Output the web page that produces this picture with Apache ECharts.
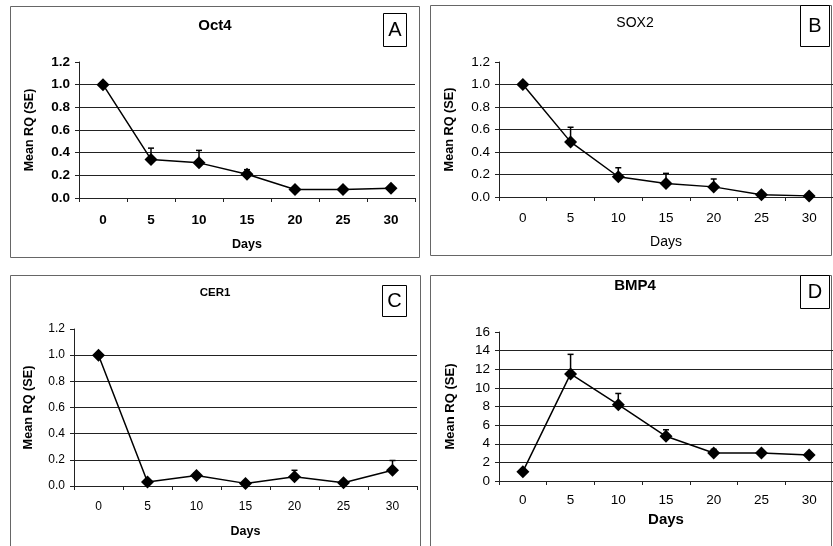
<!DOCTYPE html>
<html>
<head>
<meta charset="utf-8">
<script src="https://cdn.jsdelivr.net/npm/echarts@6/dist/echarts.min.js"></script>
<style>
html,body{margin:0;padding:0;background:#fff;}
#c{width:833px;height:546px;}
</style>
</head>
<body>
<div id="c"></div>
<script>
// ---- data ----
var days = ['0', '5', '10', '15', '20', '25', '30'];
var oct4 = [1.0, 0.34, 0.31, 0.21, 0.075, 0.075, 0.085];
var oct4Se = [0, 0.10, 0.11, 0.04, 0.01, 0.01, 0.01];
var sox2 = [1.0, 0.49, 0.18, 0.12, 0.09, 0.02, 0.01];
var sox2Se = [0, 0.13, 0.08, 0.09, 0.07, 0.01, 0.01];
var cer1 = [1.0, 0.03, 0.08, 0.02, 0.07, 0.025, 0.12];
var cer1Se = [0, 0.01, 0.02, 0.01, 0.05, 0.01, 0.075];
var bmp4 = [1.0, 11.5, 8.2, 4.8, 3.0, 3.0, 2.8];
var bmp4Se = [0, 2.1, 1.2, 0.7, 0.4, 0.1, 0.1];
var titles = ['Oct4', 'SOX2', 'CER1', 'BMP4'];
var letters = ['A', 'B', 'C', 'D'];
var yName = 'Mean RQ (SE)';
var xName = 'Days';

var FONT = '"Liberation Sans", Arial, sans-serif';
var panels = [
  {vals: oct4, se: oct4Se, max: 1.2, interval: 0.2, dec: 1,
   grid: {left: 79, top: 62, width: 336, height: 136},
   tickBold: true, tickSize: 13.5, yNameBold: true, xNameBold: true, nameSize: 12.5, xNameSize: 12.5,
   yGap: 43, xGap: 40, xMargin: 15, box: [383, 13, 23, 33], title: [215, 26], titleBold: true, titleSize: 15},
  {vals: sox2, se: sox2Se, max: 1.2, interval: 0.2, dec: 1,
   grid: {left: 499, top: 62, width: 336, height: 135},
   tickBold: false, tickSize: 13.5, yNameBold: true, xNameBold: false, nameSize: 12.7, xNameSize: 14,
   yGap: 43, xGap: 38, xMargin: 14, box: [800, 5, 29, 41], title: [635, 23], titleBold: false, titleSize: 14},
  {vals: cer1, se: cer1Se, max: 1.2, interval: 0.2, dec: 1,
   grid: {left: 74, top: 329, width: 343, height: 157},
   tickBold: false, tickSize: 12, yNameBold: true, xNameBold: true, nameSize: 12.7, xNameSize: 12.5,
   yGap: 39, xGap: 39, xMargin: 15, box: [382, 285, 24, 31], title: [215, 293], titleBold: true, titleSize: 11.5},
  {vals: bmp4, se: bmp4Se, max: 16, interval: 2, dec: 0,
   grid: {left: 499, top: 332, width: 336, height: 149},
   tickBold: false, tickSize: 13.5, yNameBold: true, xNameBold: true, nameSize: 13, xNameSize: 15,
   yGap: 42, xGap: 31, xMargin: 12, box: [800, 275, 29, 33], title: [635, 286], titleBold: true, titleSize: 15}
];
var frames = [[10, 6, 409, 251], [430, 5, 401, 250], [10, 275, 410, 290], [430, 275, 401, 290]];

var grids = [], xAxes = [], yAxes = [], series = [], graphics = [];

frames.forEach(function (f) {
  graphics.push({type: 'rect', shape: {x: f[0] + 0.5, y: f[1] + 0.5, width: f[2], height: f[3]},
    style: {fill: null, stroke: '#666', lineWidth: 1}, z: 0});
});

panels.forEach(function (p, i) {
  grids.push(p.grid);
  var nTicks = Math.round(p.max / p.interval) + 1;
  var splitColors = [];
  for (var k = 0; k < nTicks; k++) splitColors.push(k === nTicks - 1 ? 'rgba(0,0,0,0)' : '#222');
  xAxes.push({
    type: 'category', gridIndex: i, data: days, boundaryGap: true,
    axisLine: {lineStyle: {color: '#222', width: 1}},
    axisTick: {show: true, length: 4, lineStyle: {color: '#222'}},
    axisLabel: {color: '#000', fontFamily: FONT, fontSize: p.tickSize, fontWeight: p.tickBold ? 'bold' : 'normal', margin: p.xMargin},
    name: xName, nameLocation: 'middle', nameGap: p.xGap,
    nameTextStyle: {color: '#000', fontFamily: FONT, fontSize: p.xNameSize, fontWeight: p.xNameBold ? 'bold' : 'normal'}
  });
  yAxes.push({
    type: 'value', gridIndex: i, min: 0, max: p.max, interval: p.interval,
    axisLine: {show: true, lineStyle: {color: '#222', width: 1}},
    axisTick: {show: true, length: 4, lineStyle: {color: '#222'}},
    axisLabel: {color: '#000', fontFamily: FONT, fontSize: p.tickSize, fontWeight: p.tickBold ? 'bold' : 'normal', margin: 9,
      formatter: (function (d) { return function (v) { return v.toFixed(d); }; })(p.dec)},
    splitLine: {show: true, lineStyle: {color: splitColors, width: 1}},
    name: yName, nameLocation: 'middle', nameGap: p.yGap,
    nameTextStyle: {color: '#000', fontFamily: FONT, fontSize: p.nameSize, fontWeight: p.yNameBold ? 'bold' : 'normal'}
  });
  var errData = p.vals.map(function (v, j) { return [j, v, v + p.se[j]]; });
  series.push({
    type: 'custom', xAxisIndex: i, yAxisIndex: i, z: 2,
    encode: {x: 0, y: [1, 2]},
    data: errData,
    renderItem: function (params, api) {
      var a = api.coord([api.value(0), api.value(1)]);
      var t = api.coord([api.value(0), api.value(2)]);
      var st = {stroke: '#000', lineWidth: 1.5};
      return {type: 'group', children: [
        {type: 'line', shape: {x1: a[0], y1: a[1], x2: t[0], y2: t[1]}, style: st},
        {type: 'line', shape: {x1: t[0] - 3, y1: t[1], x2: t[0] + 3, y2: t[1]}, style: st}
      ]};
    }
  });
  series.push({
    type: 'line', xAxisIndex: i, yAxisIndex: i, z: 3,
    data: p.vals, symbol: 'diamond', symbolSize: 13,
    itemStyle: {color: '#000'}, lineStyle: {color: '#000', width: 1.5}
  });
  graphics.push({type: 'rect', shape: {x: p.box[0] + 0.5, y: p.box[1] + 0.5, width: p.box[2], height: p.box[3]},
    style: {fill: '#fff', stroke: '#000', lineWidth: 1}, z: 5});
  graphics.push({type: 'text', x: p.box[0] + p.box[2] / 2 + 0.5, y: p.box[1] + p.box[3] / 2 + 1, z: 6,
    style: {text: letters[i], fill: '#000', font: '20px ' + FONT, textAlign: 'center', textVerticalAlign: 'middle'}});
  graphics.push({type: 'text', x: p.title[0], y: p.title[1], z: 6,
    style: {text: titles[i], fill: '#000', font: (p.titleBold ? 'bold ' : '') + p.titleSize + 'px ' + FONT, textAlign: 'center', textVerticalAlign: 'middle'}});
});

var chart = echarts.init(document.getElementById('c'), null, {renderer: 'canvas'});
chart.setOption({
  animation: false,
  backgroundColor: '#fff',
  grid: grids, xAxis: xAxes, yAxis: yAxes, series: series,
  graphic: {elements: graphics}
});
</script>
</body>
</html>
